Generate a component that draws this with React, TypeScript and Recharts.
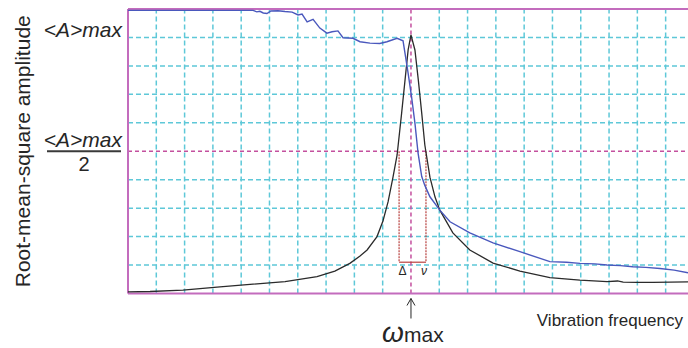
import React from 'react';
import { LineChart, Line, XAxis, YAxis, ReferenceLine } from 'recharts';

// frequency in grid units (peak = 10), amplitude in grid units (plot top = 10)
const blueFreq = [0, 4.42, 4.55, 4.66, 4.78, 4.91, 5.05, 5.3, 5.55, 5.8, 6.01, 6.15, 6.33, 6.54, 6.78, 7.03, 7.21, 7.42, 7.6, 7.95, 8.2, 8.55, 8.9, 9.15, 9.51, 9.72, 9.79, 9.9, 10.02, 10.14, 10.25, 10.38, 10.49, 10.67, 11.02, 11.38, 12.08, 12.9, 13.85, 14.91, 15.5, 15.97, 16.5, 16.93, 17.4, 17.84, 18.3, 18.8, 19.3, 19.79];
const blueAmp = [9.95, 9.95, 9.9, 9.92, 9.86, 9.84, 9.93, 9.94, 9.91, 9.89, 9.79, 9.82, 9.55, 9.64, 9.33, 9.15, 9.2, 9.23, 8.99, 8.97, 8.85, 8.8, 8.79, 8.85, 8.97, 8.88, 8.44, 7.74, 6.92, 5.99, 4.94, 4.11, 3.8, 3.4, 2.93, 2.52, 2.13, 1.78, 1.47, 1.12, 1.1, 1.06, 1.04, 1.0, 0.98, 0.94, 0.92, 0.88, 0.82, 0.73];

const blackFreq = [0, 0.78, 1.94, 3.25, 4.42, 5.55, 6.68, 7.31, 7.84, 8.2, 8.45, 8.8, 9.01, 9.19, 9.36, 9.51, 9.67, 9.79, 9.9, 10.0, 10.14, 10.26, 10.38, 10.49, 10.67, 10.85, 11.02, 11.48, 12.08, 12.9, 13.85, 14.91, 15.97, 16.93, 17.3, 17.5, 17.99, 18.55, 19.79];
const blackAmp = [0.06, 0.07, 0.12, 0.23, 0.33, 0.42, 0.59, 0.79, 1.06, 1.32, 1.53, 2.0, 2.55, 3.22, 4.06, 4.87, 6.34, 7.5, 8.56, 9.09, 8.56, 7.5, 6.34, 5.22, 4.09, 3.39, 2.93, 2.13, 1.53, 1.07, 0.79, 0.56, 0.47, 0.42, 0.44, 0.4, 0.39, 0.39, 0.41];

const xTicks = [1, 2, 3, 4, 5, 6, 7, 8, 9, 11, 12, 13, 14, 15, 16, 17, 18, 19];
const yTicks = [1, 2, 3, 4, 6, 7, 8, 9];
const xMax = 19.79;
const peakFreq = 10;
const maxLevel = 9;
const halfLevel = 5;
const bandFreq = [9.58, 10.53];
const bandBottom = 1.1;

const blueData = blueFreq.map((f, i) => ({ f, a: blueAmp[i] }));
const blackData = blackFreq.map((f, i) => ({ f, a: blackAmp[i] }));

const font = '"Liberation Sans", Arial, sans-serif';
const ink = '#262626';
const frame = '#c36cbd';
const pink = '#c4509e';
const cyan = '#5ec8d8';
const red = '#b8413f';

const MaxLabel = ({ viewBox }: any) => (
  <text x={viewBox.x - 6} y={viewBox.y} textAnchor="end" fontFamily={font} fontSize={21} fontStyle="italic" fill={ink}>
    {'<A>max'}
  </text>
);

const HalfLabel = ({ viewBox }: any) => {
  const x = viewBox.x;
  const y = viewBox.y;
  return (
    <g>
      <text x={x - 6} y={y - 4} textAnchor="end" fontFamily={font} fontSize={21} fontStyle="italic" fill={ink}>
        {'<A>max'}
      </text>
      <line x1={x - 81} x2={x - 7} y1={y} y2={y} stroke="#3a3a3a" strokeWidth={2} />
      <text x={x - 44} y={y + 20} textAnchor="middle" fontFamily={font} fontSize={20} fill={ink}>
        2
      </text>
    </g>
  );
};

const PeakLabel = ({ viewBox }: any) => {
  const x = viewBox.x;
  const bottom = viewBox.y + viewBox.height;
  return (
    <g>
      <line x1={x} x2={x} y1={bottom + 25} y2={bottom + 5} stroke={ink} strokeWidth={1} />
      <polyline points={`${x - 4},${bottom + 12} ${x},${bottom + 5} ${x + 4},${bottom + 12}`} fill="none" stroke={ink} strokeWidth={1} />
      <text x={x - 29} y={bottom + 48} fontFamily={font} fontSize={28} fontStyle="italic" fill={ink}>ω</text>
      <text x={x - 7} y={bottom + 48} fontFamily={font} fontSize={21} fill={ink}>max</text>
      <text x={x - 8.5} y={bottom - 18.5} textAnchor="middle" fontFamily={font} fontSize={12} fill={ink}>Δ</text>
      <text x={x + 13} y={bottom - 18.5} textAnchor="middle" fontFamily={font} fontSize={12} fontStyle="italic" fill={ink}>ν</text>
    </g>
  );
};

const AxisTitleY = ({ viewBox }: any) => {
  const cx = viewBox.x - 98;
  const cy = viewBox.y + viewBox.height / 2;
  return (
    <text x={cx} y={cy} transform={`rotate(-90, ${cx}, ${cy})`} textAnchor="middle" fontFamily={font} fontSize={21} fill={ink}>
      Root-mean-square amplitude
    </text>
  );
};

const AxisTitleX = ({ viewBox }: any) => (
  <text x={683} y={viewBox.y + 32} textAnchor="end" fontFamily={font} fontSize={17} fill={ink}>
    Vibration frequency
  </text>
);

export default function App() {
  return (
    <div style={{ position: 'absolute', left: 0, top: 0, width: 688, height: 348, background: '#fff' }}>
      <LineChart width={688} height={348} margin={{ top: 9, right: 0, bottom: 54.5, left: 128 }}>
        <XAxis type="number" dataKey="f" domain={[0, xMax]} ticks={xTicks} hide allowDataOverflow />
        <YAxis type="number" domain={[0, 10]} ticks={yTicks} hide allowDataOverflow />

        {/* dashed grid */}
        {xTicks.map((t) => (
          <ReferenceLine key={`gx${t}`} x={t} stroke={cyan} strokeWidth={1.5} strokeDasharray="5 3" />
        ))}
        {yTicks.map((t) => (
          <ReferenceLine key={`gy${t}`} y={t} stroke={cyan} strokeWidth={1.5} strokeDasharray="5 3" />
        ))}

        <ReferenceLine y={halfLevel} stroke={pink} strokeWidth={1.5} strokeDasharray="4 3" label={<HalfLabel />} />
        <ReferenceLine y={maxLevel} stroke="none" label={<MaxLabel />} />
        <ReferenceLine x={peakFreq} stroke={pink} strokeWidth={1.5} strokeDasharray="4 3" label={<PeakLabel />} />

        <ReferenceLine segment={[{ x: bandFreq[0], y: halfLevel }, { x: bandFreq[0], y: bandBottom }]} stroke={red} strokeWidth={1.2} strokeDasharray="2 1" />
        <ReferenceLine segment={[{ x: bandFreq[1], y: halfLevel }, { x: bandFreq[1], y: bandBottom }]} stroke={red} strokeWidth={1.2} strokeDasharray="2 1" />
        <ReferenceLine segment={[{ x: bandFreq[0], y: bandBottom }, { x: bandFreq[1], y: bandBottom }]} stroke={red} strokeWidth={1.2} />

        <ReferenceLine y={10} stroke={frame} strokeWidth={2} />
        <ReferenceLine y={0} stroke={frame} strokeWidth={2} label={<AxisTitleX />} />
        <ReferenceLine x={0} stroke={frame} strokeWidth={2} label={<AxisTitleY />} />

        <Line data={blackData} dataKey="a" type="linear" stroke="#2b2b2b" strokeWidth={1.3} dot={false} isAnimationActive={false} />
        <Line data={blueData} dataKey="a" type="linear" stroke="#4a58bd" strokeWidth={1.4} dot={false} isAnimationActive={false} />
      </LineChart>
    </div>
  );
}
